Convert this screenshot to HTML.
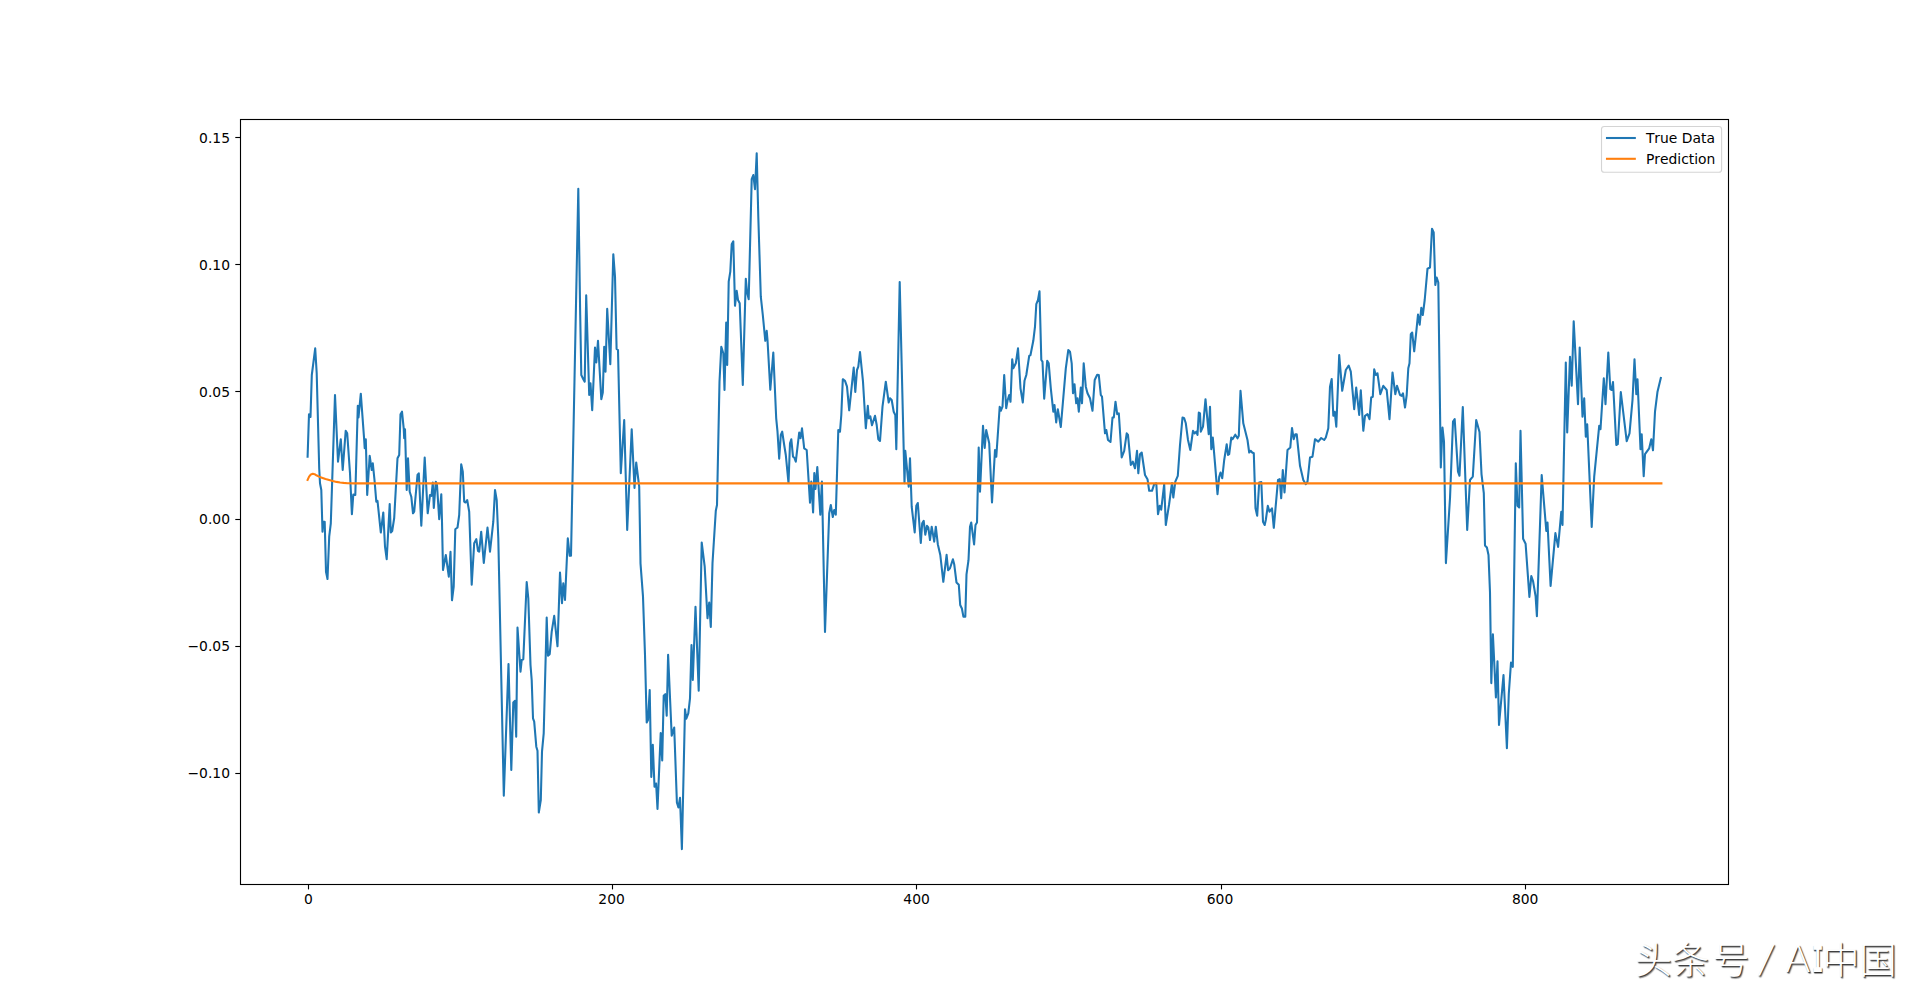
<!DOCTYPE html>
<html lang="zh">
<head>
<meta charset="utf-8">
<title>True Data vs Prediction</title>
<style>
html,body{margin:0;padding:0;background:#fff;}
body{width:1920px;height:993px;overflow:hidden;position:relative;}
svg{position:absolute;left:0;top:0;display:block;}
.tk{font-family:"DejaVu Sans","Liberation Sans",sans-serif;font-size:13.89px;fill:#000;font-kerning:none;}
.wm{position:absolute;left:1635px;top:933px;white-space:nowrap;font-family:"DejaVu Sans Light","DejaVu Sans","Liberation Sans","Noto Sans CJK SC",sans-serif;font-weight:300;font-size:37px;line-height:50px;color:#fff;text-shadow:1px 1px 1px rgba(0,0,0,.75),1.5px 1.5px 1px rgba(0,0,0,.35);}
.wm .cj{font-family:"Noto Sans CJK SC","Liberation Sans",sans-serif;font-weight:300;}
.wm .la{font-weight:200;position:relative;top:-2.5px;font-size:38px;}
.wm .sl{display:inline-block;transform:skewX(-9deg);margin-left:-1.5px;}
.wm .si{display:inline-block;position:relative;top:-2.5px;font-size:38px;font-family:"DejaVu Sans Mono","Liberation Mono",monospace;font-weight:700;transform:scaleX(.5);transform-origin:0 50%;width:10px;margin-left:1px;}
</style>
</head>
<body>
<svg width="1920" height="993" viewBox="0 0 1920 993">
<rect x="0" y="0" width="1920" height="993" fill="#ffffff"/>
<clipPath id="ax"><rect x="240.0" y="119.16" width="1488.0" height="764.61"/></clipPath>
<g clip-path="url(#ax)" fill="none" stroke-linejoin="round" stroke-linecap="square">
<polyline stroke="#1f77b4" stroke-width="2.08" points="307.6,456.7 309.0,414.2 310.5,417.0 311.8,375.0 315.2,348.3 316.7,373.3 319.2,468.3 320.0,483.3 321.3,490.0 322.5,531.7 323.3,521.7 324.7,521.7 326.0,571.7 327.5,579.0 329.2,536.7 330.8,523.3 335.0,395.0 338.0,461.7 340.8,439.2 342.7,470.0 345.7,430.8 347.2,433.3 350.0,473.3 351.9,514.3 353.3,494.5 355.3,495.0 357.8,405.8 358.5,417.5 360.8,393.7 364.2,440.0 364.7,448.3 365.8,439.2 367.2,495.0 369.7,455.8 371.7,470.0 372.8,463.3 374.5,480.0 376.3,501.7 377.5,500.8 380.8,532.5 383.3,512.5 385.0,546.7 386.7,559.2 389.7,504.0 390.8,532.5 392.2,531.0 394.2,518.0 397.5,458.3 399.2,455.0 400.5,414.2 402.0,411.7 403.7,428.3 404.2,438.3 405.0,429.2 406.7,490.0 408.0,458.3 409.7,491.7 411.3,496.7 413.0,513.3 414.2,511.7 417.5,475.0 418.8,473.3 421.3,525.8 424.7,457.5 427.7,513.3 430.0,495.0 431.5,495.8 432.8,482.5 433.8,508.0 435.8,481.7 437.0,485.0 439.2,519.2 441.3,494.2 442.0,521.7 443.0,570.0 445.8,555.0 448.8,576.7 450.5,551.7 452.0,600.3 453.7,586.7 455.3,529.2 457.5,527.5 459.2,515.0 461.2,464.2 462.8,471.7 464.2,501.7 465.5,502.5 467.2,500.0 469.2,511.7 471.7,584.7 474.2,543.3 476.3,539.2 478.0,550.8 479.2,551.7 481.2,531.7 483.8,563.0 487.5,527.5 490.0,551.7 493.3,521.7 495.0,490.0 496.7,500.0 498.3,538.3 503.8,795.8 508.5,664.0 511.3,770.0 513.3,702.5 515.0,700.8 516.2,736.7 517.5,627.5 520.5,671.7 521.7,660.0 523.3,659.2 526.7,582.0 528.3,598.3 530.5,665.0 531.7,680.0 533.0,718.3 534.2,721.7 536.3,746.7 537.5,750.8 538.8,812.5 540.8,800.0 542.0,751.7 543.7,733.3 546.7,617.5 548.0,655.8 549.7,654.2 551.7,631.7 554.2,615.8 557.5,646.3 560.0,572.5 562.0,603.3 563.3,583.3 565.0,600.0 567.8,538.3 569.7,555.8 571.0,555.8 578.3,188.7 580.2,315.0 581.3,375.0 583.3,379.2 584.7,381.7 586.2,295.3 589.2,395.0 590.5,383.3 592.2,410.3 595.0,347.5 596.3,362.5 598.0,340.8 601.3,399.2 602.8,392.5 604.2,346.7 605.5,371.7 607.2,308.7 610.3,364.2 613.3,254.2 615.0,276.7 616.6,349.0 618.0,350.0 620.8,473.3 624.2,420.0 627.2,530.0 631.7,429.2 634.5,488.0 636.2,462.5 639.2,486.7 640.5,563.3 643.0,596.7 645.0,655.0 646.7,722.5 648.0,720.0 649.7,690.0 651.3,776.9 652.8,744.7 654.5,786.8 656.1,783.5 657.5,809.0 660.7,733.0 662.2,760.5 663.7,695.8 665.3,694.2 666.7,715.8 668.1,654.7 671.7,735.8 674.2,727.5 676.9,802.5 678.4,807.5 680.0,797.8 681.9,849.1 685.0,709.2 686.3,718.7 688.3,713.3 690.0,698.3 691.5,645.0 692.8,680.0 695.5,606.7 698.7,690.8 701.7,542.5 704.7,566.7 707.5,618.3 709.2,602.5 710.8,627.0 712.5,563.3 715.8,510.8 717.0,505.0 719.5,381.7 721.3,346.7 723.3,353.3 724.5,390.0 726.2,322.5 727.2,365.0 728.7,281.7 730.3,271.7 731.7,244.2 733.3,241.3 735.0,305.8 736.7,290.8 738.0,300.0 739.7,303.3 742.8,385.0 745.8,278.7 747.0,291.7 748.7,299.2 751.7,179.2 753.3,175.0 755.0,189.2 756.7,153.3 758.3,216.7 760.8,296.7 762.8,315.0 765.3,340.8 766.7,330.8 767.5,340.0 770.3,389.7 773.3,352.5 776.2,418.3 777.5,431.7 779.2,458.7 780.8,435.0 782.2,431.7 784.2,445.0 785.8,455.0 788.5,483.0 790.0,443.3 791.3,439.2 793.0,456.7 794.2,457.5 795.8,461.7 799.2,432.5 800.5,438.3 802.0,428.3 804.2,448.3 806.7,450.0 810.0,502.7 811.3,481.5 813.1,512.4 814.3,473.1 815.5,489.0 817.3,467.0 820.3,514.6 821.9,481.5 825.0,632.0 829.2,513.3 830.8,505.0 832.8,517.0 834.2,510.0 835.8,514.7 838.3,430.0 840.0,431.7 841.3,415.0 842.8,379.2 845.0,380.8 847.0,386.7 849.2,410.3 853.7,367.5 855.3,392.0 857.0,370.0 858.3,366.7 860.0,352.0 863.0,381.7 865.8,428.3 867.8,405.8 868.8,418.3 870.3,416.3 872.0,425.3 875.0,415.8 876.7,425.0 878.3,439.2 880.0,441.0 882.5,406.7 885.8,381.7 888.7,402.5 890.0,398.3 891.7,400.0 893.7,411.7 895.3,415.0 896.3,449.2 899.7,282.0 904.5,483.3 905.3,450.8 908.7,486.7 910.0,458.3 911.7,506.7 914.7,532.5 916.3,505.8 917.8,503.0 920.8,543.0 922.2,523.3 923.7,520.8 925.3,534.7 927.0,525.8 928.3,527.5 930.0,540.0 931.7,526.7 934.2,541.7 935.8,526.7 937.8,544.2 940.3,555.0 943.3,581.8 946.6,554.8 948.1,570.2 950.0,568.3 952.9,559.2 954.2,564.2 956.5,582.5 958.8,584.8 960.2,605.0 961.9,608.5 963.4,616.6 965.3,616.6 966.5,574.3 968.5,560.2 970.0,526.7 971.2,522.5 974.1,544.4 975.5,525.0 977.0,522.5 978.7,447.5 980.0,491.7 983.0,425.8 984.7,448.0 986.2,430.0 989.2,443.3 992.0,502.5 995.0,450.0 996.3,456.7 999.7,406.7 1000.8,410.8 1002.5,406.7 1004.2,375.0 1006.2,408.3 1007.5,400.8 1009.2,395.0 1010.5,401.7 1012.2,359.2 1013.3,368.3 1015.8,363.3 1018.0,348.3 1020.5,388.3 1022.8,402.5 1024.5,380.8 1026.3,375.0 1029.2,355.8 1030.5,355.0 1033.3,340.8 1035.0,326.7 1036.3,304.2 1038.0,300.0 1039.5,291.2 1041.3,360.0 1042.5,361.7 1044.2,398.7 1047.2,360.8 1048.7,363.3 1050.8,388.3 1053.3,411.7 1054.5,405.0 1056.2,422.5 1057.8,409.2 1060.8,427.0 1065.8,368.3 1068.3,350.0 1070.0,351.7 1071.7,363.3 1073.0,393.3 1074.5,384.2 1076.2,403.3 1077.5,398.3 1078.8,411.7 1080.8,387.5 1082.0,403.3 1083.7,363.3 1085.8,386.7 1087.5,393.3 1090.0,398.3 1092.5,410.8 1094.7,380.0 1097.2,374.7 1098.8,375.0 1100.8,395.0 1102.0,396.7 1105.0,433.3 1106.3,430.0 1108.0,440.0 1110.5,442.0 1112.5,417.5 1113.8,417.5 1115.5,401.7 1117.2,414.2 1118.8,413.3 1121.7,457.5 1124.2,450.8 1126.7,433.3 1128.0,435.0 1130.8,465.0 1132.8,461.7 1135.0,468.3 1137.0,450.8 1138.3,473.3 1140.0,454.2 1141.7,452.5 1145.0,475.0 1147.5,479.2 1149.2,490.8 1152.0,490.8 1154.2,484.2 1156.3,483.3 1158.0,514.2 1159.7,505.8 1161.2,509.7 1164.2,484.2 1165.8,525.0 1169.0,505.0 1172.0,483.0 1173.3,497.5 1175.3,481.7 1177.8,475.8 1180.0,445.0 1182.5,417.5 1184.2,418.3 1185.8,423.3 1188.0,440.0 1190.3,450.0 1193.0,430.8 1194.7,433.3 1196.3,431.7 1197.5,435.0 1198.8,412.5 1200.0,413.3 1200.8,431.7 1203.0,426.7 1205.5,399.2 1208.7,434.2 1210.0,406.7 1211.3,449.2 1212.8,437.5 1215.0,463.3 1217.5,494.2 1219.2,476.7 1220.5,472.5 1222.2,478.3 1224.2,460.0 1226.7,444.2 1228.0,455.0 1229.2,454.2 1231.3,437.5 1232.5,439.2 1235.3,434.7 1237.5,438.3 1238.8,435.8 1240.5,390.8 1243.3,423.3 1245.8,433.3 1247.5,440.0 1249.2,452.5 1250.8,450.8 1252.2,452.5 1253.8,453.3 1255.5,508.3 1257.2,515.8 1259.2,482.5 1261.3,482.0 1263.0,521.7 1264.7,525.0 1265.8,520.0 1267.8,505.8 1269.5,511.7 1272.0,508.3 1273.8,527.8 1278.0,480.0 1279.7,479.2 1281.2,498.3 1282.8,470.0 1284.5,492.5 1287.5,450.0 1290.3,447.5 1292.0,428.0 1293.7,439.2 1295.3,434.2 1296.7,434.2 1300.0,465.8 1303.3,480.0 1305.8,484.2 1307.5,481.7 1310.0,457.5 1312.5,456.7 1315.0,439.2 1318.3,441.7 1321.2,438.0 1324.2,440.0 1325.8,437.5 1328.3,428.3 1330.0,386.7 1331.7,379.0 1333.3,415.8 1334.7,411.7 1336.3,426.7 1339.2,355.0 1342.2,390.8 1345.8,370.0 1348.7,365.5 1350.8,371.7 1354.2,409.2 1356.2,387.5 1359.2,415.0 1360.8,390.3 1363.3,430.8 1365.0,415.8 1367.5,414.2 1369.5,419.2 1371.2,397.5 1372.8,396.7 1374.2,369.2 1375.8,375.0 1377.5,373.3 1380.3,394.2 1383.3,385.8 1386.7,390.0 1389.5,419.2 1392.5,372.5 1395.3,394.2 1397.0,385.8 1400.0,395.0 1401.7,395.8 1403.0,393.3 1405.0,407.5 1406.7,395.0 1408.3,368.3 1409.5,363.3 1410.8,334.2 1412.2,332.5 1414.2,351.3 1416.3,331.7 1418.0,314.5 1419.7,324.7 1421.3,307.8 1422.8,315.0 1424.7,300.0 1427.5,268.7 1430.0,267.5 1432.0,228.7 1433.7,232.5 1435.3,285.0 1436.7,277.5 1438.3,282.5 1440.8,467.5 1442.5,427.5 1444.0,441.7 1445.9,563.1 1450.0,498.3 1453.0,421.7 1454.7,419.2 1458.0,471.7 1459.5,475.8 1462.8,407.0 1467.2,530.0 1470.0,480.0 1472.8,476.7 1476.2,420.0 1479.5,432.0 1481.5,474.0 1483.8,493.0 1485.0,545.6 1486.9,547.5 1488.5,555.0 1490.0,592.5 1491.3,683.1 1492.9,634.4 1495.9,697.5 1497.5,661.3 1499.0,725.0 1503.5,675.0 1506.9,748.1 1508.8,693.8 1511.0,662.5 1512.8,666.9 1515.8,463.3 1517.5,505.8 1519.2,507.5 1520.5,430.8 1523.1,538.8 1525.6,543.8 1529.4,596.9 1531.3,576.0 1533.1,581.3 1535.6,596.3 1536.9,616.3 1541.7,475.0 1546.3,531.0 1547.5,522.5 1550.6,585.9 1555.4,533.1 1558.1,546.9 1561.3,511.7 1562.5,525.0 1565.8,362.5 1567.2,432.5 1570.0,356.7 1571.7,385.8 1573.7,321.2 1578.0,404.2 1579.7,347.5 1582.5,416.7 1584.2,398.3 1585.8,436.7 1587.2,424.2 1591.7,527.0 1594.2,476.7 1599.2,425.8 1600.5,429.2 1603.8,378.3 1605.5,404.2 1608.3,352.5 1610.3,389.2 1611.7,390.0 1613.0,382.0 1616.3,445.0 1617.8,444.2 1620.8,392.0 1626.7,441.2 1629.5,433.3 1632.5,400.0 1634.5,359.2 1636.3,394.2 1637.5,379.2 1640.5,449.2 1641.7,434.2 1643.7,476.2 1645.0,454.2 1649.2,448.3 1651.3,439.2 1653.0,450.3 1655.0,411.7 1657.5,391.7 1660.8,378.0"/>
<polyline stroke="#ff7f0e" stroke-width="2.08" points="307.6,479.9 309.1,476.6 310.9,474.4 312.8,473.8 314.6,474.2 316.4,475.3 319.0,476.6 321.9,477.7 325.5,479.0 329.2,480.0 332.8,481.0 336.5,481.9 340.1,482.5 343.7,482.9 347.4,483.2 354.7,483.4 1661.4,483.4"/>
</g>
<rect x="240.5" y="119.5" width="1488.0" height="765.0" fill="none" stroke="#000" stroke-width="1.11"/>
<g stroke="#000" stroke-width="1.11">
<line x1="235.3" y1="137.5" x2="240.5" y2="137.5"/>
<line x1="235.3" y1="264.5" x2="240.5" y2="264.5"/>
<line x1="235.3" y1="391.5" x2="240.5" y2="391.5"/>
<line x1="235.3" y1="519.5" x2="240.5" y2="519.5"/>
<line x1="235.3" y1="646.5" x2="240.5" y2="646.5"/>
<line x1="235.3" y1="773.5" x2="240.5" y2="773.5"/>
<line x1="308.5" y1="884.5" x2="308.5" y2="889.4"/>
<line x1="612.5" y1="884.5" x2="612.5" y2="889.4"/>
<line x1="916.5" y1="884.5" x2="916.5" y2="889.4"/>
<line x1="1221.5" y1="884.5" x2="1221.5" y2="889.4"/>
<line x1="1525.5" y1="884.5" x2="1525.5" y2="889.4"/>
</g>
<text class="tk" x="230.0" y="143" text-anchor="end">0.15</text>
<text class="tk" x="230.0" y="270" text-anchor="end">0.10</text>
<text class="tk" x="230.0" y="397" text-anchor="end">0.05</text>
<text class="tk" x="230.0" y="524" text-anchor="end">0.00</text>
<text class="tk" x="230.0" y="651" text-anchor="end">−0.05</text>
<text class="tk" x="230.0" y="778" text-anchor="end">−0.10</text>
<text class="tk" x="308.4" y="904.0" text-anchor="middle">0</text>
<text class="tk" x="611.6" y="904.0" text-anchor="middle">200</text>
<text class="tk" x="916.6" y="904.0" text-anchor="middle">400</text>
<text class="tk" x="1220.0" y="904.0" text-anchor="middle">600</text>
<text class="tk" x="1525.2" y="904.0" text-anchor="middle">800</text>
<rect x="1601.5" y="126.5" width="120.1" height="45.8" rx="2.8" ry="2.8" fill="#fff" fill-opacity="0.8" stroke="#ccc" stroke-opacity="0.85" stroke-width="1.1"/>
<line x1="1607" y1="138" x2="1634.8" y2="138" stroke="#1f77b4" stroke-width="2.08" stroke-linecap="square"/>
<line x1="1607" y1="158.8" x2="1634.8" y2="158.8" stroke="#ff7f0e" stroke-width="2.08" stroke-linecap="square"/>
<text class="tk" x="1645.9" y="142.8">True Data</text>
<text class="tk" x="1645.9" y="163.6">Prediction</text>
</svg>
<div class="wm"><span class="cj">头条<span style="margin-left:3.5px">号</span></span><span class="la"> <span class="sl">/</span> A</span><span class="si">I</span><span class="cj" style="margin-left:0.5px">中国</span></div>
</body>
</html>
